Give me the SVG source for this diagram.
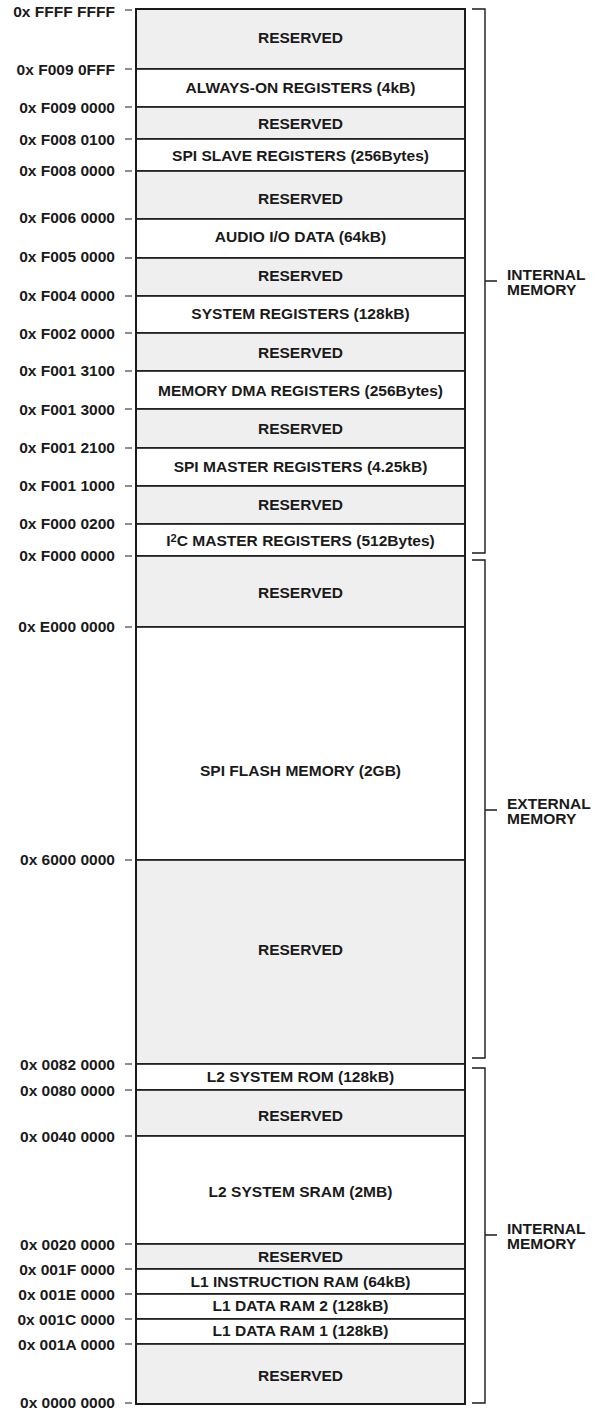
<svg xmlns="http://www.w3.org/2000/svg" width="598" height="1412" viewBox="0 0 598 1412">
<style>
text{font-family:"Liberation Sans",Arial,sans-serif;font-weight:bold;font-size:14px;fill:#1a1a1a}
.m{text-anchor:middle}
.e{text-anchor:end}
.r{fill:#efefef;stroke:#1a1a1a;stroke-width:1.6}
.w{fill:#ffffff;stroke:#1a1a1a;stroke-width:1.6}
.t{stroke:#1a1a1a;stroke-width:1.2;fill:none}
.b{stroke:#1a1a1a;stroke-width:1.4;fill:none}
</style>
<rect width="598" height="1412" fill="#ffffff"/>
<g id="regions">
<g id="r1"><rect class="r" x="136" y="9" width="329" height="60"/></g>
<g id="r2"><rect class="w" x="136" y="69" width="329" height="38"/></g>
<g id="r3"><rect class="r" x="136" y="107" width="329" height="32"/></g>
<g id="r4"><rect class="w" x="136" y="139" width="329" height="32"/></g>
<g id="r5"><rect class="r" x="136" y="171" width="329" height="48"/></g>
<g id="r6"><rect class="w" x="136" y="219" width="329" height="39"/></g>
<g id="r7"><rect class="r" x="136" y="258" width="329" height="38"/></g>
<g id="r8"><rect class="w" x="136" y="296" width="329" height="37"/></g>
<g id="r9"><rect class="r" x="136" y="333" width="329" height="38"/></g>
<g id="r10"><rect class="w" x="136" y="371" width="329" height="38"/></g>
<g id="r11"><rect class="r" x="136" y="409" width="329" height="39"/></g>
<g id="r12"><rect class="w" x="136" y="448" width="329" height="38"/></g>
<g id="r13"><rect class="r" x="136" y="486" width="329" height="38"/></g>
<g id="r14"><rect class="w" x="136" y="524" width="329" height="32"/></g>
<g id="r15"><rect class="r" x="136" y="556" width="329" height="71"/></g>
<g id="r16"><rect class="w" x="136" y="627" width="329" height="233"/></g>
<g id="r17"><rect class="r" x="136" y="860" width="329" height="204"/></g>
<g id="r18"><rect class="w" x="136" y="1064" width="329" height="26"/></g>
<g id="r19"><rect class="r" x="136" y="1090" width="329" height="46"/></g>
<g id="r20"><rect class="w" x="136" y="1136" width="329" height="108"/></g>
<g id="r21"><rect class="r" x="136" y="1244" width="329" height="25"/></g>
<g id="r22"><rect class="w" x="136" y="1269" width="329" height="25"/></g>
<g id="r23"><rect class="w" x="136" y="1294" width="329" height="25"/></g>
<g id="r24"><rect class="w" x="136" y="1319" width="329" height="25"/></g>
<g id="r25"><rect class="r" x="136" y="1344" width="329" height="60"/></g>
<rect x="136" y="9" width="329" height="1395" fill="none" stroke="#1a1a1a" stroke-width="2"/>
</g>
<g id="region-labels" transform="translate(300.5 0) scale(1.11 1)">
<text class="m" x="0" y="43">RESERVED</text>
<text class="m" x="0" y="93">ALWAYS-ON REGISTERS (4kB)</text>
<text class="m" x="0" y="129">RESERVED</text>
<text class="m" x="0" y="161">SPI SLAVE REGISTERS (256Bytes)</text>
<text class="m" x="0" y="204">RESERVED</text>
<text class="m" x="0" y="242">AUDIO I/O DATA (64kB)</text>
<text class="m" x="0" y="281">RESERVED</text>
<text class="m" x="0" y="319">SYSTEM REGISTERS (128kB)</text>
<text class="m" x="0" y="358">RESERVED</text>
<text class="m" x="0" y="396">MEMORY DMA REGISTERS (256Bytes)</text>
<text class="m" x="0" y="434">RESERVED</text>
<text class="m" x="0" y="472">SPI MASTER REGISTERS (4.25kB)</text>
<text class="m" x="0" y="510">RESERVED</text>
<text class="m" x="0" y="546">I<tspan font-size="10" dy="-4">2</tspan><tspan dy="4">C MASTER REGISTERS (512Bytes)</tspan></text>
<text class="m" x="0" y="598">RESERVED</text>
<text class="m" x="0" y="776">SPI FLASH MEMORY (2GB)</text>
<text class="m" x="0" y="955">RESERVED</text>
<text class="m" x="0" y="1082">L2 SYSTEM ROM (128kB)</text>
<text class="m" x="0" y="1121">RESERVED</text>
<text class="m" x="0" y="1197">L2 SYSTEM SRAM (2MB)</text>
<text class="m" x="0" y="1262">RESERVED</text>
<text class="m" x="0" y="1287">L1 INSTRUCTION RAM (64kB)</text>
<text class="m" x="0" y="1311">L1 DATA RAM 2 (128kB)</text>
<text class="m" x="0" y="1336">L1 DATA RAM 1 (128kB)</text>
<text class="m" x="0" y="1381">RESERVED</text>
</g>
<g id="connectors">
<path class="t" d="M125 10H132M125 69H132M125 107H132M125 139H132M125 171H132M125 219H132M125 258H132M125 296H132M125 333H132M125 371H132M125 409H132M125 448H132M125 486H132M125 524H132M125 556H132M125 627H132M125 860H132M125 1064H132M125 1090H132M125 1136H132M125 1244H132M125 1269H132M125 1294H132M125 1319H132M125 1344H132M125 1403H132"/>
<path class="b" d="M472 9H485V553H472M485 281H497"/>
<path class="b" d="M472 560H485V1058H472M485 810H497"/>
<path class="b" d="M472 1068H485V1403H472M485 1235H497"/>
</g>
<g id="address-labels" transform="translate(115 0) scale(1.11 1)">
<text class="e" x="0" y="17">0x FFFF FFFF</text>
<text class="e" x="0" y="75">0x F009 0FFF</text>
<text class="e" x="0" y="113">0x F009 0000</text>
<text class="e" x="0" y="145">0x F008 0100</text>
<text class="e" x="0" y="176">0x F008 0000</text>
<text class="e" x="0" y="223">0x F006 0000</text>
<text class="e" x="0" y="262">0x F005 0000</text>
<text class="e" x="0" y="301">0x F004 0000</text>
<text class="e" x="0" y="339">0x F002 0000</text>
<text class="e" x="0" y="376">0x F001 3100</text>
<text class="e" x="0" y="415">0x F001 3000</text>
<text class="e" x="0" y="453">0x F001 2100</text>
<text class="e" x="0" y="491">0x F001 1000</text>
<text class="e" x="0" y="529">0x F000 0200</text>
<text class="e" x="0" y="561">0x F000 0000</text>
<text class="e" x="0" y="632">0x E000 0000</text>
<text class="e" x="0" y="865">0x 6000 0000</text>
<text class="e" x="0" y="1070">0x 0082 0000</text>
<text class="e" x="0" y="1096">0x 0080 0000</text>
<text class="e" x="0" y="1142">0x 0040 0000</text>
<text class="e" x="0" y="1250">0x 0020 0000</text>
<text class="e" x="0" y="1275">0x 001F 0000</text>
<text class="e" x="0" y="1300">0x 001E 0000</text>
<text class="e" x="0" y="1325">0x 001C 0000</text>
<text class="e" x="0" y="1350">0x 001A 0000</text>
<text class="e" x="0" y="1408">0x 0000 0000</text>
</g>
<g id="bracket-labels" transform="translate(507 0) scale(1.11 1)">
<text x="0" y="280">INTERNAL</text>
<text x="0" y="295">MEMORY</text>
<text x="0" y="809">EXTERNAL</text>
<text x="0" y="824">MEMORY</text>
<text x="0" y="1234">INTERNAL</text>
<text x="0" y="1249">MEMORY</text>
</g>
</svg>
